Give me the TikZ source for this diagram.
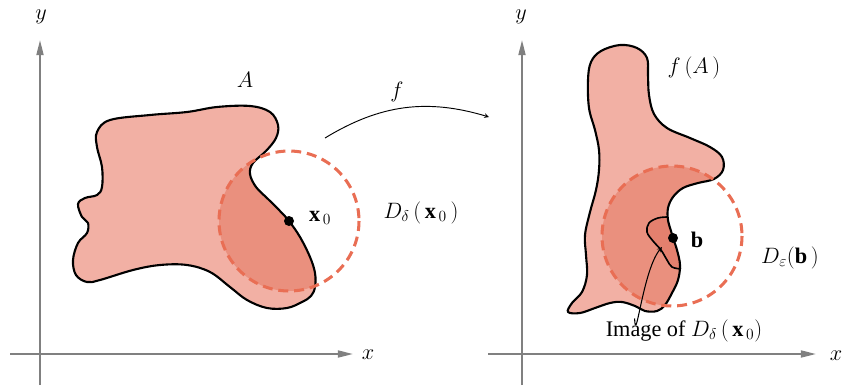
\RequirePackage{fix-cm}
\documentclass[tikz,border=0pt]{standalone}
\usepackage{fontspec}
\setmainfont{Liberation Serif}
\usepackage{amsmath}
\usetikzlibrary{arrows.meta,calc,positioning}
\colorlet{colorAxis}{black!50}
\definecolor{colorSet}{RGB}{242,176,164}
\definecolor{colorDisk}{RGB}{234,144,126}
\definecolor{colorImg}{RGB}{228,128,110}
\definecolor{colorCirc}{RGB}{233,110,84}
\tikzset{
   every path/.style={>=stealth},
   axis/.style={-{Triangle[length=13pt,width=6pt]},draw=colorAxis,line width=1.5pt},
   outline/.style={draw=black,line width=1.8pt,line join=round},
   setfill/.style={fill=colorSet},
   diskfill/.style={fill=colorDisk},
   imgfill/.style={fill=colorImg},
   disk/.style={draw=colorCirc,line width=2.6pt,dash pattern=on 8.5pt off 5pt},
   mapf/.style={->,draw=black,line width=0.8pt},
   ptr/.style={->,draw=black,line width=0.9pt},
}
\newcommand{\shapeA}{plot[smooth cycle,tension=0.6] coordinates {
   (97,132) (110,120) (150,115) (187,112) (217,107) (250,106) (270,112)
   (278,125) (276,138) (266,151) (253,163) (250,174) (256,187) (268,199)
   (280,211) (289,221) (300,237) (310,257) (315,273) (315,287) (311,296)
   (302,302) (287,308) (267,308) (247,300) (230,287) (210,272) (187,265)
   (160,265) (133,270) (100,280) (87,282) (76,275) (73,260) (78,243)
   (87,233) (88,223) (82,217) (78,204) (85,198) (97,195) (102,187)
   (102,167) (97,147)}}
\newcommand{\shapeFA}{plot[smooth cycle,tension=0.6] coordinates {
   (620,45) (637,48) (647,58) (648,75) (649,95) (654,114) (667,128)
   (690,138) (710,147) (722,157) (723,170) (714,179) (698,183) (683,188)
   (673,197) (668,208) (668,220) (671,231) (673,238) (677,250) (680,265)
   (678,280) (672,293) (665,305) (657,311) (645,311) (635,306) (622,302)
   (610,303) (595,308) (580,313) (568,312) (572,303) (582,292) (587,275)
   (586,255) (585,235) (590,212) (596,190) (599,170) (599,150) (595,130)
   (589,108) (588,80) (591,62) (601,51)}}
\newcommand{\blobImg}{(690,215) -- (668,217) plot[smooth,tension=0.6] coordinates {
   (668,217) (658,218) (649,223) (647,232) (653,241) (661,250) (667,260)
   (672,267) (682,269)} -- (700,270) -- cycle}

\begin{document}
\begin{tikzpicture}[x=0.03cm,y=-0.03cm,
    lbl/.style={inner sep=1pt,font=\fontsize{19}{22}\selectfont},
    dot/.style={circle,fill=black,inner sep=0pt,minimum size=3mm},
    >=stealth
]
\useasboundingbox (0,0) rectangle (845,385);

% ------------------------------------------------------------
% Domain: A and D_delta(x_0)
% ------------------------------------------------------------

\coordinate (yBot1) at (40,385);
\coordinate (yTop1) at (40,40);
\coordinate (xLft1) at (10,354);
\coordinate (xRgt1) at (353,354);
\draw[axis] (yBot1) -- (yTop1);
\draw[axis] (xLft1) -- (xRgt1);
\node[lbl] (ylab1) at (41,17) {$y$};
\node[lbl] (xlab1) at (368,355) {$x$};

\coordinate (cx0) at (289,221);
\fill[setfill] \shapeA;
\begin{scope}
  \clip (cx0) circle (70);
  \fill[diskfill] \shapeA;
\end{scope}
\draw[outline] \shapeA;
\draw[disk] (cx0) circle (70);
\node[dot] (x0) at (cx0) {};

\node[lbl] (labA)  at (245,80)  {$A$};
\node[lbl] (labx0) at (320,218) {$\mathbf{x}_{\,0}$};
\node[lbl] (labD0) at (421,213) {$D_{\delta}\,(\,\mathbf{x}_{\,0}\,)$};

% the map f
\coordinate (fS) at (325,138);
\coordinate (fE) at (489,117);
\draw[mapf] (fS) to[bend left=24] (fE);
\node[lbl] (labf) at (397,92) {$f$};

% ------------------------------------------------------------
% Image: f(A) and D_eps(b)
% ------------------------------------------------------------

\coordinate (yBot2) at (522,385);
\coordinate (yTop2) at (522,40);
\coordinate (xLft2) at (488,354);
\coordinate (xRgt2) at (816,354);
\draw[axis] (yBot2) -- (yTop2);
\draw[axis] (xLft2) -- (xRgt2);
\node[lbl] (ylab2) at (521,17) {$y$};
\node[lbl] (xlab2) at (836,356) {$x$};

\coordinate (cb) at (672,236);
\fill[setfill] \shapeFA;
\begin{scope}
  \clip (cb) circle (70);
  \fill[diskfill] \shapeFA;
\end{scope}
\begin{scope}
  \clip \shapeFA;
  \fill[imgfill] \blobImg;
\end{scope}
\draw[outline,line width=1.4pt] plot[smooth,tension=0.6] coordinates {
   (668,217) (658,218) (649,223) (647,232) (653,241) (661,250) (667,260)
   (672,267) (681,269)};
\draw[outline] \shapeFA;
\draw[disk] (cb) circle (70);
\node[dot] (b) at (673,238) {};

\node[lbl] (labFA) at (694,68)  {$f\,(A\,)$};
\node[lbl] (labb)  at (697,240) {$\mathbf{b}$};
\node[lbl] (labDe) at (790,258) {$D_{\varepsilon}(\mathbf{b}\,)$};
\node[lbl] (img)   at (684,331) {Image of $D_{\delta}\,(\,\mathbf{x}_{\,0})$};

\coordinate (imgTip) at (662,247);
\draw[ptr] ($(img.north west)!0.19!(img.north east)$) to[out=-88,in=-130] (imgTip);
\end{tikzpicture}
\end{document}
